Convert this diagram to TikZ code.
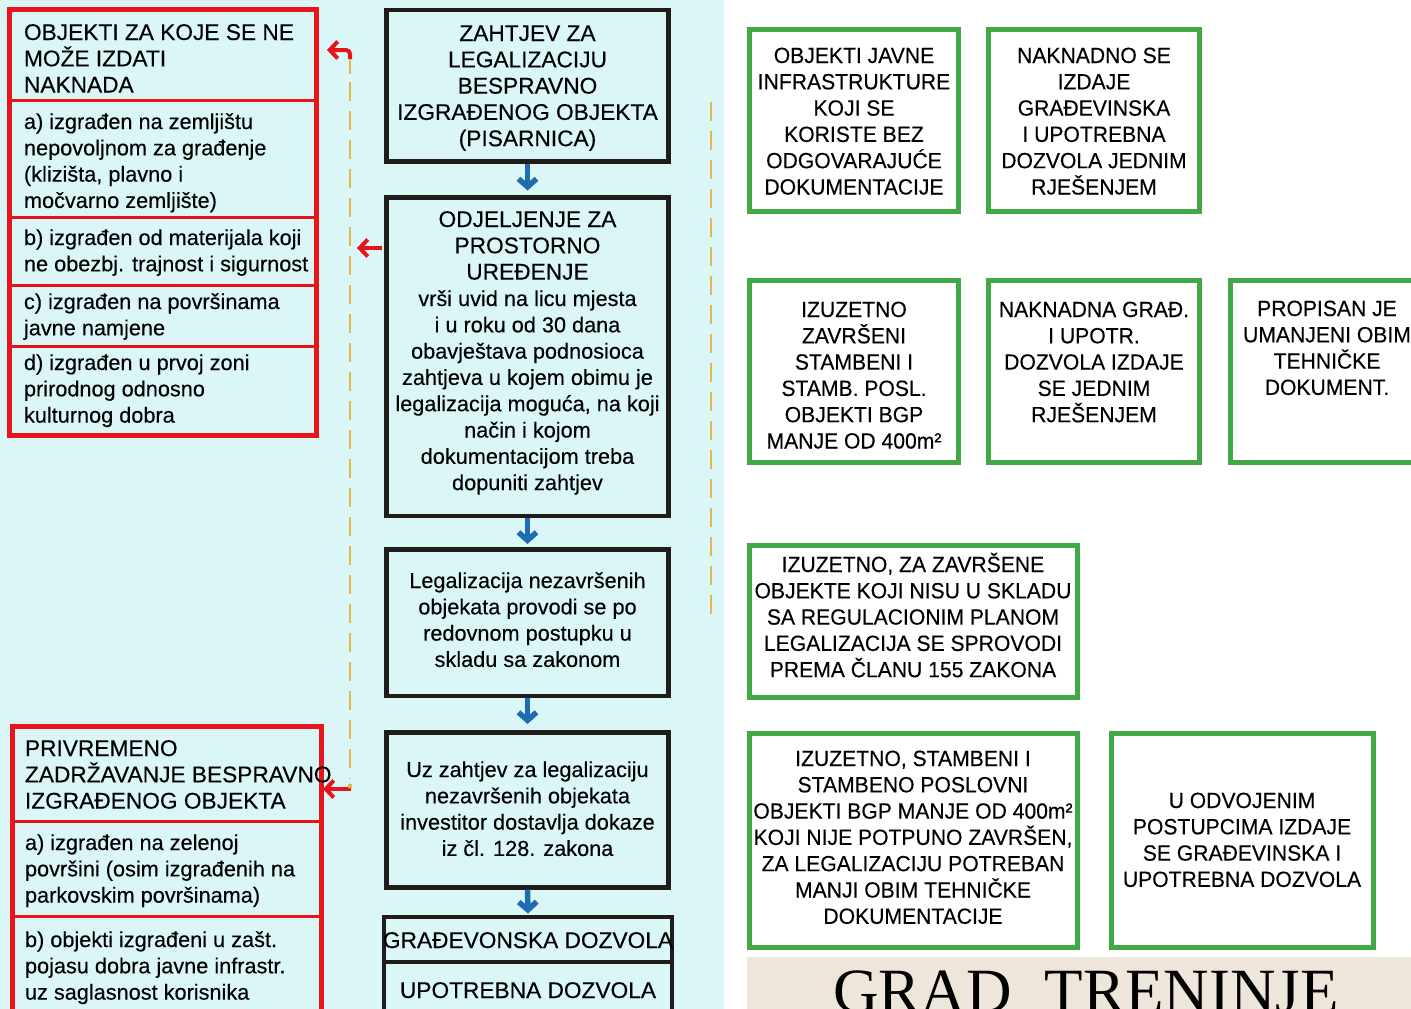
\documentclass[tikz,border=0pt]{standalone}
\usepackage{fontspec}
\setmainfont[FakeBold=0.25]{Liberation Sans}
\newfontfamily\gfont[FakeStretch=0.96,FakeBold=0.25]{Liberation Sans}
\newfontfamily\bannerfont{Liberation Serif}
\usetikzlibrary{arrows.meta}
\definecolor{bgcyan}{HTML}{DAF6F6}
\definecolor{redc}{HTML}{E8141C}
\definecolor{greenc}{HTML}{42A846}
\definecolor{darkc}{HTML}{201C1A}
\definecolor{bluec}{HTML}{1F6CB0}
\definecolor{goldc}{HTML}{E6B74A}
\definecolor{beige}{HTML}{EEE6DA}
\newcommand\tp{\rule{0pt}{22pt}}
\begin{document}
\begin{tikzpicture}[x=1pt,y=-1pt,
  redbox/.style={draw=redc, line width=5pt, fill=bgcyan, inner sep=0pt, outer sep=0pt, anchor=north west},
  redsep/.style={draw=redc, line width=3pt},
  darkbox/.style={draw=darkc, line width=4.5pt, fill=bgcyan, inner sep=0pt, outer sep=0pt, anchor=north west},
  greenbox/.style={draw=greenc, line width=5pt, fill=white, inner sep=0pt, outer sep=0pt, anchor=north west},
  txt/.style={inner sep=0pt, outer sep=0pt, text=black},
  capsf/.style={font={\fontsize{22.7}{26.3}\selectfont}},
  lowf/.style={font={\fontsize{21.7}{26.3}\selectfont}},
  grf/.style={font={\gfont\fontsize{22}{26.3}\selectfont}},
  ctxt/.style={txt, anchor=north, align=center},
  ltxt/.style={txt, anchor=north west, align=left},
  bluearr/.style={draw=bluec, line width=5.5pt, -{Straight Barb[length=8pt,width=18pt]}},
  redarr/.style={draw=redc, line width=4pt, -{Straight Barb[length=8pt,width=17pt]}},
  goldline/.style={draw=goldc, line width=2.2pt},
  golddash/.style={draw=goldc, line width=2.2pt, dash pattern=on 19pt off 10pt}
]
\clip (0,0) rectangle (1411,1009);
\fill[white] (0,0) rectangle (1411,1009);
\fill[bgcyan] (0,0) rectangle (724,1009);
\fill[beige] (747,957) rectangle (1411,1009);

% ---------- left top red box ----------
\node[redbox, minimum width=306.5pt, minimum height=425.5pt] (lt) at (9.5,9.5) {};
\draw[redsep] (lt.west |- 0,100) -- (lt.east |- 0,100);
\draw[redsep] (lt.west |- 0,217) -- (lt.east |- 0,217);
\draw[redsep] (lt.west |- 0,285) -- (lt.east |- 0,285);
\draw[redsep] (lt.west |- 0,346) -- (lt.east |- 0,346);
\node[ltxt, capsf] (lth) at (24,18) {\tp OBJEKTI ZA KOJE SE NE\\MOŽE IZDATI\\NAKNADA};
\node[ltxt, lowf] (lta) at (24,107) {\tp a) izgrađen na zemljištu\\nepovoljnom za građenje\\(klizišta, plavno i\\močvarno zemljište)};
\node[ltxt, lowf] (ltb) at (24,223) {\tp b) izgrađen od materijala koji\\ne obezbj. trajnost i sigurnost};
\node[ltxt, lowf] (ltc) at (24,287) {\tp c) izgrađen na površinama\\javne namjene};
\node[ltxt, lowf] (ltd) at (24,348) {\tp d) izgrađen u prvoj zoni\\prirodnog odnosno\\kulturnog dobra};

% ---------- left bottom red box ----------
\node[redbox, minimum width=309pt, minimum height=330pt] (lb) at (12,726) {};
\draw[redsep] (lb.west |- 0,821) -- (lb.east |- 0,821);
\draw[redsep] (lb.west |- 0,916) -- (lb.east |- 0,916);
\node[ltxt, capsf] (lbh) at (25,734) {\tp PRIVREMENO\\ZADRŽAVANJE BESPRAVNO\\IZGRAĐENOG OBJEKTA};
\node[ltxt, lowf] (lba) at (25,828) {\tp a) izgrađen na zelenoj\\površini (osim izgrađenih na\\parkovskim površinama)};
\node[ltxt, lowf] (lbb) at (25,925) {\tp b) objekti izgrađeni u zašt.\\pojasu dobra javne infrastr.\\uz saglasnost korisnika};

% ---------- middle column ----------
\node[darkbox, minimum width=282pt, minimum height=151.5pt] (b1) at (386.5,10) {};
\node[darkbox, minimum width=282pt, minimum height=318.5pt] (b2) at (386.5,197.5) {};
\node[darkbox, minimum width=282pt, minimum height=146.5pt] (b3) at (386.5,549.5) {};
\node[darkbox, minimum width=282pt, minimum height=155pt] (b4) at (386.5,732.5) {};
\node[darkbox, minimum width=288pt, minimum height=45pt] (b5a) at (384,917) {};
\node[darkbox, minimum width=288pt, minimum height=90pt] (b5b) at (384,962) {};

\node[ctxt, capsf] (t1) at (527.5,19) {\tp ZAHTJEV ZA\\LEGALIZACIJU\\BESPRAVNO\\IZGRAĐENOG OBJEKTA\\(PISARNICA)};
\node[ctxt, capsf] (t2a) at (527.5,205) {\tp ODJELJENJE ZA\\PROSTORNO\\UREĐENJE};
\node[ctxt, lowf] (t2b) at (527.5,284) {\tp vrši uvid na licu mjesta\\i u roku od 30 dana\\obavještava podnosioca\\zahtjeva u kojem obimu je\\legalizacija moguća, na koji\\način i kojom\\dokumentacijom treba\\dopuniti zahtjev};
\node[ctxt, lowf] (t3) at (527.5,566) {\tp Legalizacija nezavršenih\\objekata provodi se po\\redovnom postupku u\\skladu sa zakonom};
\node[ctxt, lowf] (t4) at (527.5,755) {\tp Uz zahtjev za legalizaciju\\nezavršenih objekata\\investitor dostavlja dokaze\\iz čl. 128. zakona};
\node[ctxt, capsf] (t5a) at (528,926) {\tp GRAĐEVONSKA DOZVOLA};
\node[ctxt, capsf] (t5b) at (528,976) {\tp UPOTREBNA DOZVOLA};

\draw[bluearr] ([yshift=-2pt]b1.south) -- ([yshift=7pt]b2.north);
\draw[bluearr] ([yshift=-2pt]b2.south) -- ([yshift=5.5pt]b3.north);
\draw[bluearr] ([yshift=-2pt]b3.south) -- ([yshift=8.5pt]b4.north);
\draw[bluearr] ([yshift=-2pt]b4.south) -- ([yshift=3.5pt]b5a.north);

% ---------- dashed guide lines and red arrows ----------
\coordinate (dA) at (350,82);
\coordinate (dB) at (350,779);
\draw[golddash] (dA) -- (dB);
\coordinate (dR1) at (711,102);
\coordinate (dR2) at (711,620);
\draw[golddash] (dR1) -- (dR2);

\coordinate (cA) at (350,74);
\coordinate (tA) at (327,50);
\draw[goldline] (cA) -- (350,56);
\draw[redarr, rounded corners=4pt] (350,59) -- (350,50) -- (tA);

\coordinate (sB) at (382,248);
\coordinate (tB) at (357,248);
\draw[redarr] (sB) -- (tB);

\coordinate (sC) at (351,789);
\draw[redarr] (sC) -- ([xshift=2pt]lb.east |- sC);
\fill[goldc] (350,786) circle (2.4);

% ---------- right green boxes ----------
\node[greenbox, minimum width=209pt, minimum height=182pt] (g1) at (749.5,29.5) {};
\node[greenbox, minimum width=211pt, minimum height=182pt] (g2) at (988.5,29.5) {};
\node[greenbox, minimum width=209pt, minimum height=182pt] (g3) at (749.5,280) {};
\node[greenbox, minimum width=211pt, minimum height=182pt] (g4) at (988.5,280) {};
\node[greenbox, minimum width=193pt, minimum height=182pt] (g5) at (1230.5,280) {};
\node[greenbox, minimum width=328pt, minimum height=152pt] (g6) at (749.5,545.5) {};
\node[greenbox, minimum width=328pt, minimum height=214pt] (g7) at (749.5,733.5) {};
\node[greenbox, minimum width=262pt, minimum height=214pt] (g8) at (1111.5,733.5) {};

\node[ctxt, grf] (gt1) at (854,41) {\tp OBJEKTI JAVNE\\INFRASTRUKTURE\\KOJI SE\\KORISTE BEZ\\ODGOVARAJUĆE\\DOKUMENTACIJE};
\node[ctxt, grf] (gt2) at (1094,41) {\tp NAKNADNO SE\\IZDAJE\\GRAĐEVINSKA\\I UPOTREBNA\\DOZVOLA JEDNIM\\RJEŠENJEM};
\node[ctxt, grf] (gt3) at (854,295) {\tp IZUZETNO\\ZAVRŠENI\\STAMBENI I\\STAMB. POSL.\\OBJEKTI BGP\\MANJE OD 400m²};
\node[ctxt, grf] (gt4) at (1094,295) {\tp NAKNADNA GRAĐ.\\I UPOTR.\\DOZVOLA IZDAJE\\SE JEDNIM\\RJEŠENJEM};
\node[ctxt, grf] (gt5) at (1327,294) {\tp PROPISAN JE\\UMANJENI OBIM\\TEHNIČKE\\DOKUMENT.};
\node[ctxt, grf] (gt6) at (913,550) {\tp IZUZETNO, ZA ZAVRŠENE\\OBJEKTE KOJI NISU U SKLADU\\SA REGULACIONIM PLANOM\\LEGALIZACIJA SE SPROVODI\\PREMA ČLANU 155 ZAKONA};
\node[ctxt, grf] (gt7) at (913,744) {\tp IZUZETNO, STAMBENI I\\STAMBENO POSLOVNI\\OBJEKTI BGP MANJE OD 400m²\\KOJI NIJE POTPUNO ZAVRŠEN,\\ZA LEGALIZACIJU POTREBAN\\MANJI OBIM TEHNIČKE\\DOKUMENTACIJE};
\node[ctxt, grf] (gt8) at (1242,786) {\tp U ODVOJENIM\\POSTUPCIMA IZDAJE\\SE GRAĐEVINSKA I\\UPOTREBNA DOZVOLA};

% ---------- banner ----------
\node[txt, anchor=base west, font={\bannerfont\fontsize{63}{70}\selectfont}] (banner) at (833,1012) {GRAD\hspace{33.5pt}TRENINJE};
\end{tikzpicture}
\end{document}
